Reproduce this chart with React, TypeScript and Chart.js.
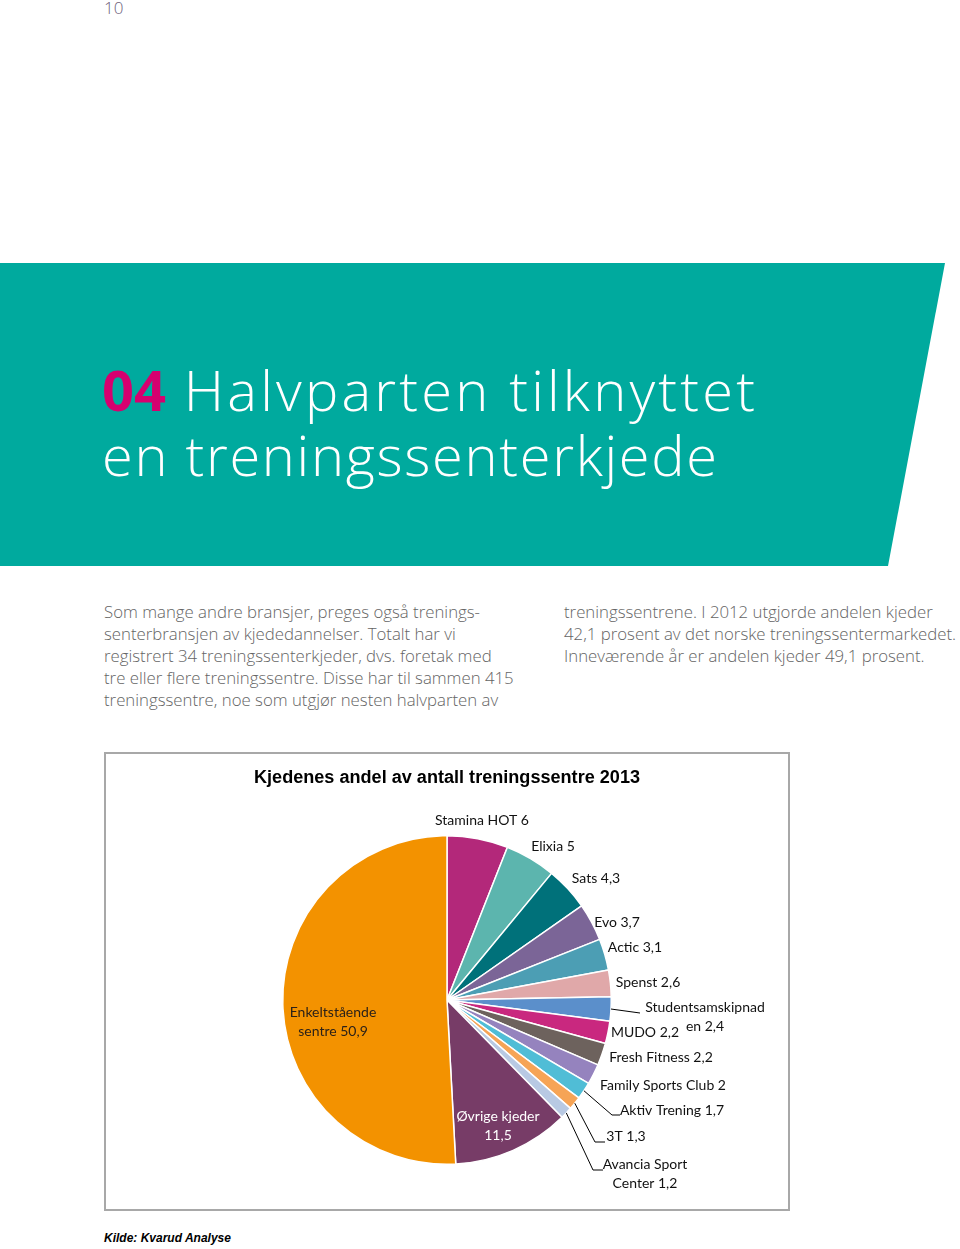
import React, { useEffect, useRef } from "react";
import { Chart, registerables } from "chart.js";

Chart.register(...registerables);

// ---------- data ----------
const CATEGORIES = [
  "Stamina HOT", "Elixia", "Sats", "Evo", "Actic", "Spenst", "Studentsamskipnaden",
  "MUDO", "Fresh Fitness", "Family Sports Club", "Aktiv Trening", "3T",
  "Avancia Sport Center", "Øvrige kjeder", "Enkeltstående sentre",
];
const VALUES = [6, 5, 4.3, 3.7, 3.1, 2.6, 2.4, 2.2, 2.2, 2, 1.7, 1.3, 1.2, 11.5, 50.9];
const LABEL_NAMES = [
  ["Stamina HOT"], ["Elixia"], ["Sats"], ["Evo"], ["Actic"], ["Spenst"],
  ["Studentsamskipnad", "en"], ["MUDO"], ["Fresh Fitness"], ["Family Sports Club"],
  ["Aktiv Trening"], ["3T"], ["Avancia Sport", "Center"], ["Øvrige kjeder", ""],
  ["Enkeltstående", "sentre"],
];
const COLORS = [
  "#b3287a", "#5cb5ae", "#00717a", "#7b6597", "#4c9eb4", "#e0a8a9", "#5b8fcb",
  "#c9287f", "#6d625d", "#9583be", "#50bdd6", "#f6a456", "#b8c9e3", "#773c67", "#f39200",
];
const CHART_TITLE = "Kjedenes andel av antall treningssentre 2013";
const SOURCE = "Kilde: Kvarud Analyse";

// ---------- label layout (offsets from pie centre, px) ----------
const LABEL_POS: [number, number][] = [
  [35, -180], [106, -154], [149, -122], [170, -78], [188, -53], [201, -18],
  [258, 17], [198, 32], [214, 57], [216, 85], [225, 110], [179, 136],
  [198, 174], [51, 126], [-114, 22],
];
const LEADERS: { [k: number]: [number, number][] } = {
  6: [[193, 13]],
  10: [[165, 115], [173, 115]],
  11: [[148, 142], [158, 142]],
  12: [[146, 170], [156, 170]],
};
const LABEL_COLORS: { [k: number]: string } = { 13: "#ffffff", 14: "#2b2118" };

const fmt = (v: number) => String(v).replace(".", ",");

const labelPlugin = {
  id: "pieLabels",
  afterDatasetsDraw(chart: any) {
    const ctx = chart.ctx;
    const meta = chart.getDatasetMeta(0);
    ctx.save();
    // chart title
    ctx.font = "bold 18px 'Liberation Sans', Arial, sans-serif";
    ctx.fillStyle = "#000000";
    ctx.textAlign = "center";
    ctx.textBaseline = "middle";
    const tw = ctx.measureText(CHART_TITLE).width;
    const target = 386;
    ctx.save();
    ctx.translate(chart.width / 2, 26);
    ctx.scale(target / tw, 1.05);
    ctx.fillText(CHART_TITLE, 0, 0);
    ctx.restore();

    ctx.font = "14px Lato, 'Open Sans', sans-serif";
    meta.data.forEach((arc: any, i: number) => {
      const cx = arc.x, cy = arc.y, r = arc.outerRadius;
      const names = LABEL_NAMES[i];
      const lines = names.map((n, j) =>
        j === names.length - 1 ? (n ? n + " " : "") + fmt(VALUES[i]) : n
      );
      const [dx, dy] = LABEL_POS[i];
      const lh = 18.5;
      ctx.fillStyle = LABEL_COLORS[i] || "#111111";
      lines.forEach((ln, j) => {
        ctx.fillText(ln, cx + dx, cy + dy + (j - (lines.length - 1) / 2) * lh);
      });
      const pts = LEADERS[i];
      if (pts) {
        const a = (arc.startAngle + arc.endAngle) / 2;
        ctx.beginPath();
        ctx.strokeStyle = "#000000";
        ctx.lineWidth = 1;
        ctx.moveTo(cx + Math.cos(a) * r, cy + Math.sin(a) * r);
        pts.forEach(([px, py]) => ctx.lineTo(cx + px, cy + py));
        ctx.stroke();
      }
    });
    ctx.restore();
  },
};

function PieChart() {
  const ref = useRef<HTMLCanvasElement>(null);
  useEffect(() => {
    if (!ref.current) return;
    const chart = new Chart(ref.current, {
      type: "pie",
      data: {
        labels: CATEGORIES,
        datasets: [
          {
            data: VALUES,
            backgroundColor: COLORS,
            borderColor: "#ffffff",
            borderWidth: 1.5,
          },
        ],
      },
      options: {
        responsive: false,
        animation: false,
        layout: { padding: { left: 178, right: 178, top: 83, bottom: 46 } },
        plugins: {
          legend: { display: false },
          tooltip: { enabled: false },
          title: { display: false },
        },
      },
      plugins: [labelPlugin],
    });
    return () => chart.destroy();
  }, []);
  return <canvas ref={ref} width={686} height={459} style={{ width: 686, height: 459, display: "block" }} />;
}

const LEFT_TEXT = [
  "Som mange andre bransjer, preges også trenings-",
  "senterbransjen av kjededannelser. Totalt har vi",
  "registrert 34 treningssenterkjeder, dvs. foretak med",
  "tre eller flere treningssentre. Disse har til sammen 415",
  "treningssentre, noe som utgjør nesten halvparten av",
];
const RIGHT_TEXT = [
  "treningssentrene. I 2012 utgjorde andelen kjeder",
  "42,1 prosent av det norske treningssentermarkedet.",
  "Inneværende år er andelen kjeder 49,1 prosent.",
];

export default function App() {
  const bodyStyle: React.CSSProperties = {
    position: "absolute",
    whiteSpace: "nowrap",
    fontFamily: "'Open Sans', sans-serif",
    fontWeight: 300,
    fontSize: 16.8,
    lineHeight: "22px",
    color: "#646464",
  };
  return (
    <div style={{ position: "absolute", left: 0, top: 0, width: 960, height: 1249, overflow: "hidden", background: "#fff" }}>
      <div style={{ position: "absolute", left: 104, top: -4, fontFamily: "'Open Sans', sans-serif", fontWeight: 300, fontSize: 17, color: "#6e5f7b" }}>10</div>
      <div
        style={{
          position: "absolute", left: 0, top: 263, width: 945, height: 303, background: "#00aa9e",
          clipPath: "polygon(0 0, 945px 0, 888px 303px, 0 303px)",
        }}
      />
      <div style={{ position: "absolute", left: 102, top: 357, fontFamily: "'Open Sans', sans-serif", fontWeight: 300, fontSize: 56, lineHeight: "65px", color: "#ffffff", whiteSpace: "nowrap" }}>
        <div style={{ letterSpacing: 3.2 }}><span style={{ color: "#d6006f", fontWeight: 700, letterSpacing: 0 }}>04</span> Halvparten tilknyttet</div>
        <div style={{ letterSpacing: 1.7 }}>en treningssenterkjede</div>
      </div>
      {LEFT_TEXT.map((t, i) => (
        <div key={"l" + i} style={{ ...bodyStyle, left: 104, top: 601 + i * 22 }}>{t}</div>
      ))}
      {RIGHT_TEXT.map((t, i) => (
        <div key={"r" + i} style={{ ...bodyStyle, left: 564, top: 601 + i * 22 }}>{t}</div>
      ))}
      <div style={{ position: "absolute", left: 104, top: 752, width: 686, height: 459, boxSizing: "border-box", border: "2px solid #a8a8a8" }} />
      <div style={{ position: "absolute", left: 104, top: 752 }}>
        <PieChart />
      </div>
      <div style={{ position: "absolute", left: 104, top: 1231, fontFamily: "'Liberation Sans', Arial, sans-serif", fontWeight: "bold", fontStyle: "italic", fontSize: 12, color: "#000" }}>{SOURCE}</div>
    </div>
  );
}
